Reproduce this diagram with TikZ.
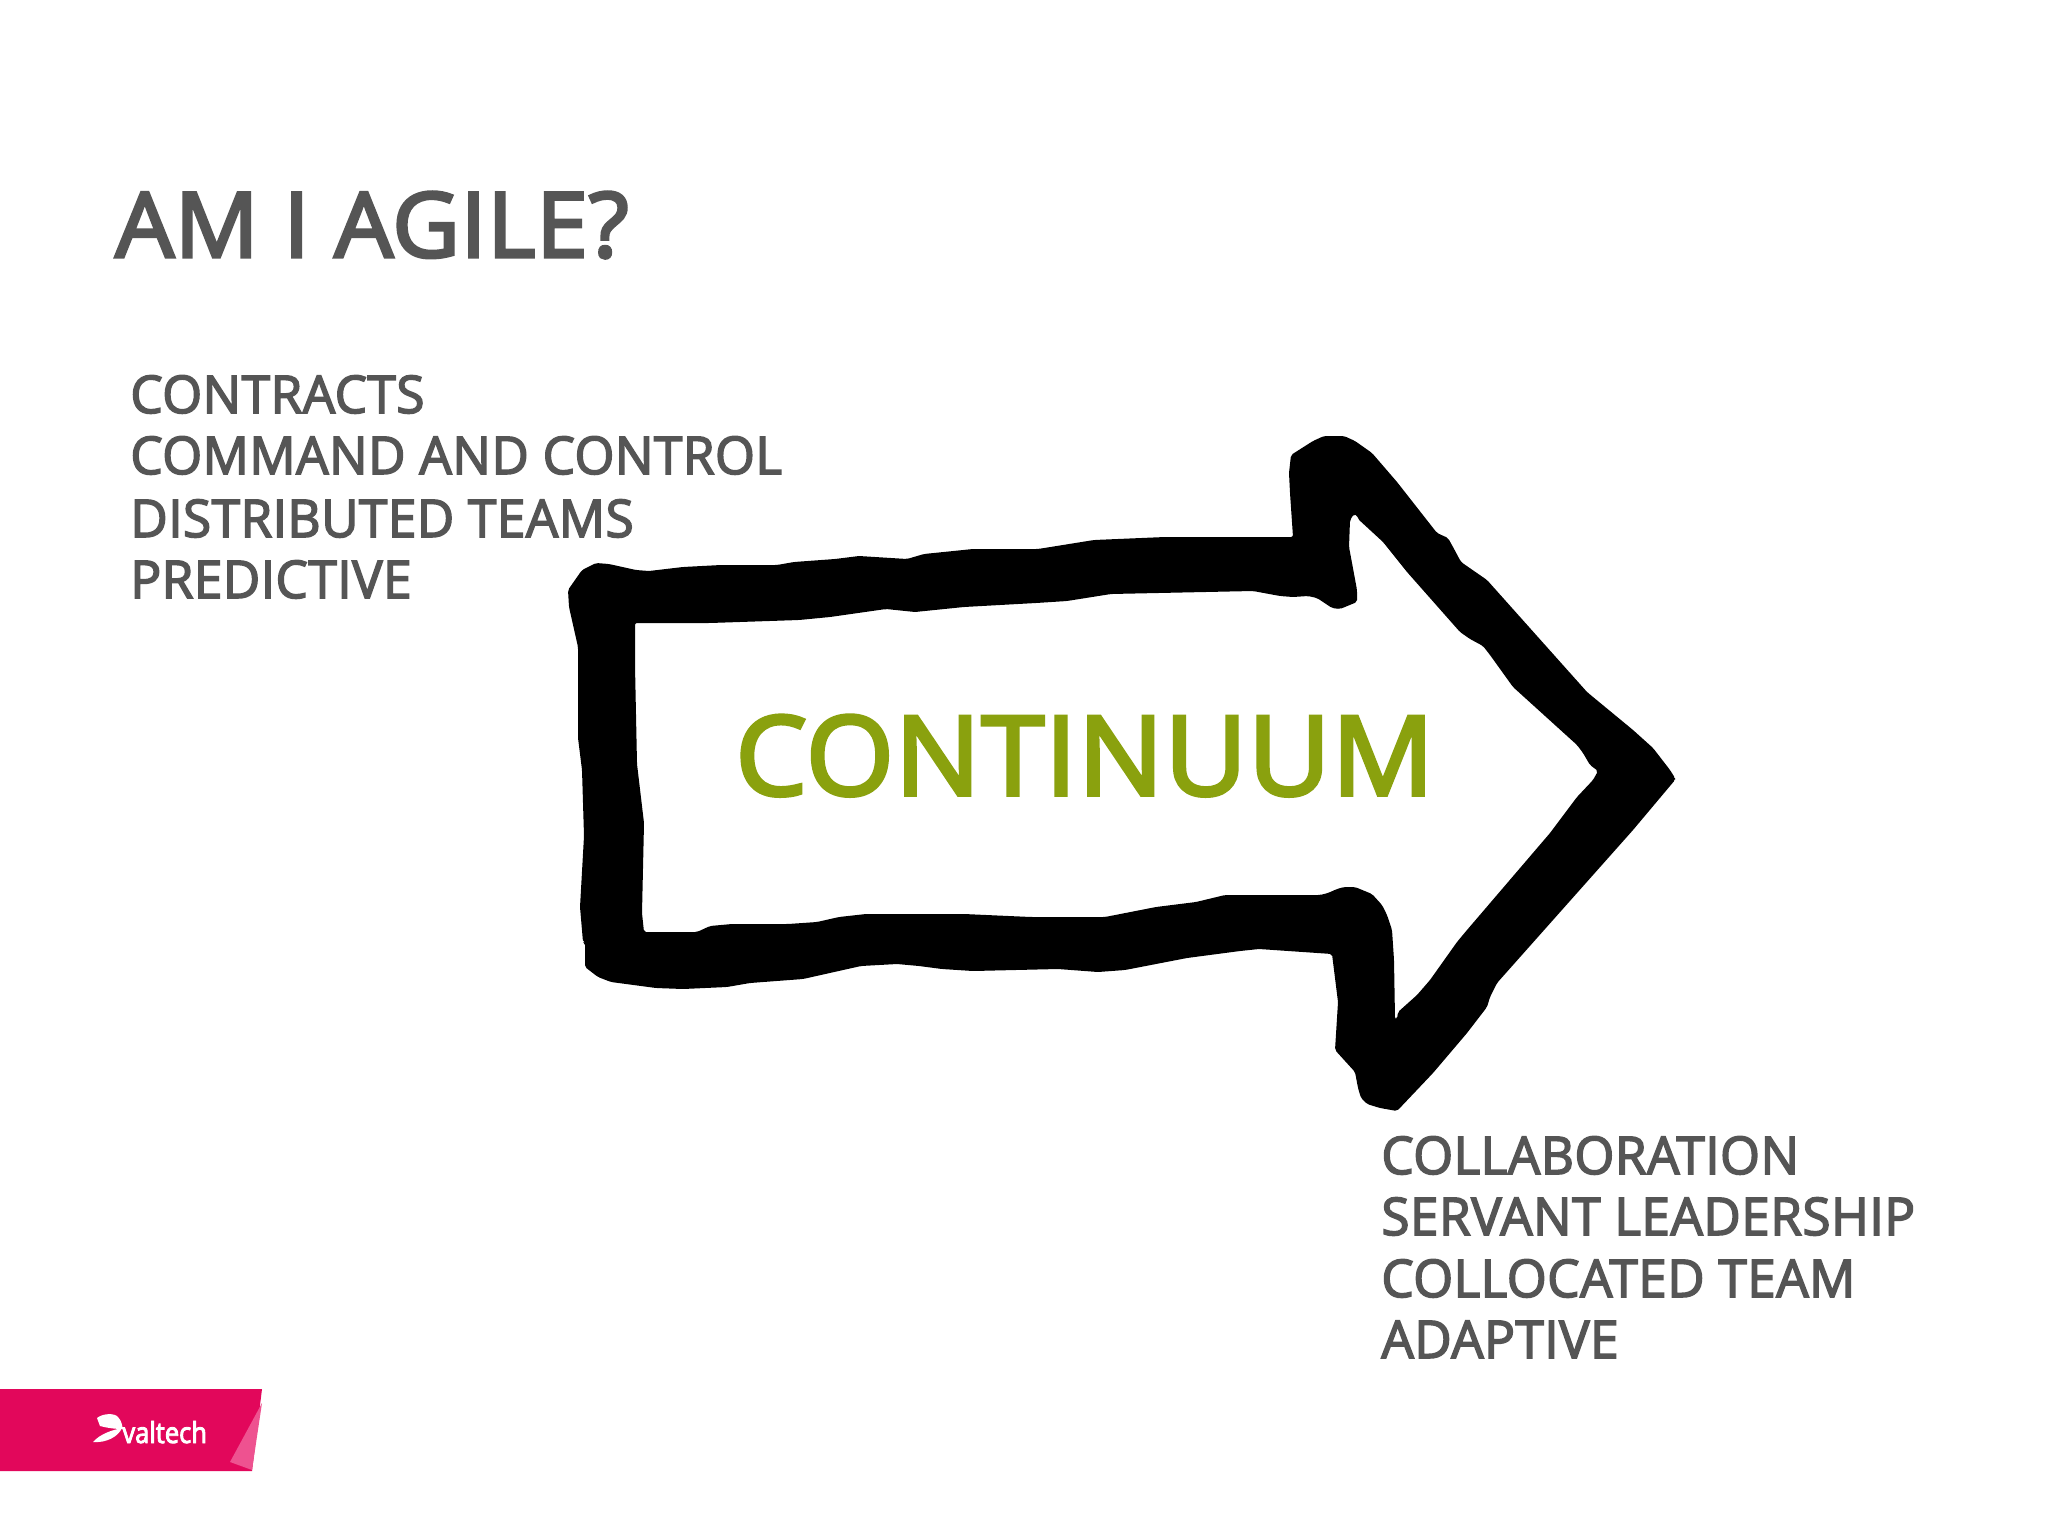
\documentclass[tikz,border=0pt]{standalone}
\usepackage{fontspec}
\setmainfont{Open Sans}[Ligatures=TeX]
\newfontfamily\titlefont{Open Sans}[FakeBold=3.5,FakeStretch=1.03,LetterSpace=1]
\newfontfamily\listfont{Open Sans}[FakeBold=3,FakeStretch=0.985,LetterSpace=1]
\newfontfamily\bigfont{Open Sans}[FakeBold=3.5,FakeStretch=1.03,LetterSpace=1]
\newfontfamily\logofont{Open Sans}[FakeBold=3,FakeStretch=0.88]
\definecolor{txtgray}{HTML}{555555}
\definecolor{contgreen}{HTML}{8AA10E}
\definecolor{vtpink}{HTML}{E2075B}
\definecolor{vtfold}{HTML}{EE5290}
\tikzset{
  titletext/.style={anchor=base west,inner sep=0pt,text=txtgray,font=\fontsize{45}{45}\titlefont},
  listtext/.style={anchor=base west,inner sep=0pt,text=txtgray,font=\fontsize{26}{26}\listfont},
  bigtext/.style={anchor=base west,inner sep=0pt,text=contgreen,font=\fontsize{55}{55}\bigfont},
  logotext/.style={anchor=base west,inner sep=0pt,text=white,font=\fontsize{14.5}{14.5}\logofont},
}
\begin{document}
\begin{tikzpicture}[x=0.5pt,y=-0.5pt]
\useasboundingbox (0,0) rectangle (2048,1536);
\fill[white] (0,0) rectangle (2048,1536);
% arrow: outer contour and inner contour
\fill[black,even odd rule,line join=round,rounded corners=1pt]
 (568,590)--(582,570)--(596,563)--(609,564)--(636,570)--(649,571)--(683,567)--(721,565)--(777,565)--(794,562)--(835,559)--(859,556)--(907,559)--(924,554)--(973,549)--(1038,549)--(1094,540)--(1165,537)--(1293,537)
 --(1290,493)--(1289,473)--(1291,455)--(1313,441)--(1324,436)--(1344,436)--(1355,441)--(1372,453)--(1397,482)--(1437,533)--(1448,538)--(1453,547)--(1461,562)--(1487,580)--(1587,692)--(1593,697)--(1633,730)--(1653,748)--(1670,770)--(1675,778)--(1675,780)
 --(1633,830)--(1497,983)--(1490,997)--(1487,1007)--(1467,1033)--(1433,1073)--(1397,1111)--(1380,1108)--(1367,1104)--(1361,1098)--(1358,1088)--(1355,1072)--(1335,1050)--(1338,1002)--(1332,954)--(1259,949)--(1240,951)--(1187,958)--(1125,970)--(1098,972)--(1058,969)--(973,971)--(942,969)--(919,966)--(897,964)--(861,966)--(803,979)--(750,983)--(727,987)--(683,989)--(656,988)--(611,982)--(598,977)--(585,967)--(585,943)--(583,942)--(580,907)--(584,836)--(582,770)--(578,738)--(578,647)--(569,607)--cycle
 (635,623)--(710,623)--(799,620)--(830,617)--(886,609)--(915,612)--(964,607)--(1036,603)--(1067,601)--(1111,594)--(1253,591)--(1280,596)--(1293,597)--(1308,596)--(1317,598)--(1332,608)--(1340,609)--(1357,602)--(1357,590)--(1352,563)--(1349,547)--(1350,520)--(1354,514)--(1357,515)--(1358,519)--(1383,542)--(1407,572)--(1460,632)--(1470,639)--(1483,646)--(1490,655)--(1513,687)--(1577,745)--(1583,753)--(1590,765)--(1598,771)--(1593,780)--(1577,797)--(1550,833)--(1467,930)--(1457,942)--(1430,980)--(1417,995)--(1398,1012)--(1397,1019)--(1395,1019)--(1394,960)--(1392,930)--(1387,915)--(1382,905)--(1372,894)--(1355,887)--(1344,887)--(1337,889)--(1328,893)--(1320,895)--(1225,895)--(1196,902)--(1156,907)--(1105,917)--(1031,917)--(964,914)--(902,914)--(866,914)--(839,917)--(817,922)--(788,924)--(732,924)--(710,926)--(697,932)--(644,932)--(642,913)--(644,823)--(637,764)--(635,666)--cycle;
% texts
\node[titletext] (title) at (115,257) {AM I AGILE?};
\node[listtext] (l1) at (130,413) {CONTRACTS};
\node[listtext] (l2) at (130,474) {COMMAND AND CONTROL};
\node[listtext] (l3) at (130,537) {DISTRIBUTED TEAMS};
\node[listtext] (l4) at (130,598) {PREDICTIVE};
\node[bigtext] (cont) at (735,795) {CONTINUUM};
\node[listtext] (r1) at (1381,1174) {COLLABORATION};
\node[listtext] (r2) at (1381,1235) {SERVANT LEADERSHIP};
\node[listtext] (r3) at (1381,1297) {COLLOCATED TEAM};
\node[listtext] (r4) at (1381,1358) {ADAPTIVE};
% logo
\fill[vtpink] (0,1389)--(262,1389)--(252,1471)--(0,1471)--cycle;
\fill[vtfold] (262,1403)--(230,1462)--(252,1470)--cycle;
\fill[white] (97,1418) .. controls (103,1413) and (115,1413) .. (118,1417) .. controls (122,1421) and (122,1426) .. (123,1429) .. controls (112,1429) and (104,1427) .. (100,1426) --cycle;
\fill[white] (93,1442) .. controls (100,1434) and (112,1430) .. (122,1428) .. controls (118,1437) and (106,1443) .. (93,1442) --cycle;
\node[logotext] (logo) at (122,1443) {valtech};
\end{tikzpicture}
\end{document}
